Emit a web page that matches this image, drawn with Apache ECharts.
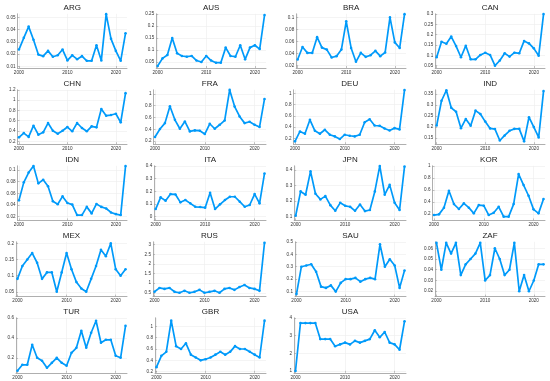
<!DOCTYPE html>
<html><head><meta charset="utf-8">
<script src="https://cdn.jsdelivr.net/npm/echarts@6/dist/echarts.min.js"></script>
<style>html,body{margin:0;padding:0;background:#fff}#c{width:550px;height:381px}</style>
</head><body><div id="c"></div><script>
const years = [2000,2001,2002,2003,2004,2005,2006,2007,2008,2009,2010,2011,2012,2013,2014,2015,2016,2017,2018,2019,2020,2021,2022];
const xTicks = [2000, 2010, 2020];
const countries = ['ARG','AUS','BRA','CAN','CHN','FRA','DEU','IND','IDN','ITA','JPN','KOR','MEX','RUS','SAU','ZAF','TUR','GBR','USA'];

const ARG = [0.0237,0.0333,0.0425,0.0317,0.0196,0.0183,0.0226,0.0178,0.019,0.0237,0.0148,0.019,0.0158,0.0183,0.0145,0.0145,0.0272,0.0148,0.0527,0.0325,0.0226,0.0145,0.0371];
const AUS = [0.033,0.065,0.079,0.15,0.086,0.075,0.072,0.075,0.056,0.05,0.075,0.056,0.047,0.047,0.11,0.075,0.072,0.12,0.061,0.11,0.12,0.104,0.246];
const BRA = [0.0303,0.051,0.0412,0.0412,0.0673,0.05,0.0467,0.0336,0.0358,0.0467,0.0935,0.0494,0.0265,0.0412,0.0347,0.0374,0.0445,0.0358,0.0418,0.1,0.0586,0.0494,0.1054];
const CAN = [0.0906,0.166,0.156,0.191,0.145,0.091,0.147,0.081,0.081,0.102,0.113,0.102,0.05,0.075,0.11,0.094,0.113,0.11,0.17,0.158,0.134,0.098,0.3];
const CHN = [0.277,0.36,0.286,0.503,0.329,0.374,0.555,0.406,0.348,0.406,0.477,0.394,0.555,0.458,0.394,0.49,0.471,0.826,0.697,0.71,0.735,0.568,1.135];
const FRA = [0.268,0.403,0.504,0.79,0.56,0.408,0.532,0.363,0.38,0.375,0.318,0.493,0.408,0.476,0.549,1.068,0.785,0.617,0.504,0.527,0.476,0.437,0.915];
const DEU = [0.147,0.323,0.282,0.53,0.335,0.282,0.353,0.265,0.235,0.188,0.265,0.247,0.235,0.265,0.488,0.541,0.429,0.424,0.376,0.341,0.382,0.359,1.06];
const IND = [0.207,0.32,0.368,0.288,0.27,0.195,0.237,0.206,0.275,0.26,0.225,0.194,0.191,0.139,0.162,0.183,0.192,0.192,0.135,0.245,0.2,0.153,0.364];
const IDN = [0.048,0.0787,0.0955,0.1067,0.077,0.0832,0.072,0.0463,0.0413,0.0547,0.0435,0.0407,0.0228,0.0228,0.0368,0.0257,0.0418,0.0368,0.034,0.0273,0.0245,0.0228,0.1067];
const ITA = [0.06,0.152,0.126,0.178,0.175,0.113,0.131,0.105,0.078,0.076,0.071,0.188,0.06,0.097,0.131,0.157,0.157,0.118,0.078,0.092,0.178,0.105,0.34];
const JPN = [0.1065,0.262,0.241,0.39,0.247,0.211,0.232,0.174,0.138,0.189,0.17,0.164,0.138,0.178,0.136,0.143,0.262,0.425,0.241,0.304,0.189,0.143,0.421];
const KOR = [0.183,0.194,0.305,0.586,0.365,0.283,0.376,0.305,0.211,0.349,0.338,0.183,0.222,0.32,0.156,0.156,0.365,0.862,0.68,0.503,0.277,0.211,0.448];
const MEX = [0.09,0.13,0.15,0.17,0.14,0.09,0.11,0.11,0.05,0.11,0.17,0.12,0.08,0.06,0.05,0.09,0.13,0.18,0.16,0.2,0.12,0.1,0.12];
const RUS = [0.55,0.75,0.7,0.75,0.55,0.5,0.6,0.5,0.55,0.65,0.5,0.55,0.6,0.5,0.7,0.75,0.65,0.8,0.9,0.75,0.7,0.6,3.1];
const SAU = [0.08,0.3,0.31,0.32,0.26,0.14,0.13,0.15,0.1,0.17,0.2,0.2,0.21,0.18,0.2,0.21,0.2,0.48,0.3,0.36,0.31,0.13,0.27];
const ZAF = [0.065,0.04,0.065,0.055,0.065,0.035,0.045,0.05,0.055,0.065,0.03,0.035,0.06,0.05,0.035,0.04,0.065,0.02,0.035,0.02,0.03,0.045,0.045];
const TUR = [0.07,0.13,0.13,0.33,0.2,0.17,0.1,0.15,0.2,0.15,0.12,0.25,0.3,0.47,0.3,0.45,0.57,0.35,0.38,0.38,0.22,0.2,0.52];
const GBR = [0.28,0.48,0.55,1.1,0.65,0.6,0.7,0.5,0.45,0.4,0.42,0.45,0.5,0.55,0.5,0.55,0.65,0.6,0.6,0.55,0.5,0.45,1.1];
const USA = [1.0,3.7,3.7,3.7,3.7,2.8,2.8,2.8,2.4,2.5,2.6,2.5,2.7,2.6,2.7,2.8,3.3,2.9,3.2,2.6,2.5,2.2,3.8];

const seriesValues = {ARG,AUS,BRA,CAN,CHN,FRA,DEU,IND,IDN,ITA,JPN,KOR,MEX,RUS,SAU,ZAF,TUR,GBR,USA};

const yTickLabels = {
  ARG:[0.01,0.02,0.03,0.04,0.05], AUS:[0.05,0.1,0.15,0.2,0.25], BRA:[0.02,0.04,0.06,0.08,0.1], CAN:[0.05,0.1,0.15,0.2,0.25,0.3],
  CHN:[0.2,0.4,0.6,0.8,1,1.2], FRA:[0.2,0.4,0.6,0.8,1], DEU:[0.2,0.4,0.6,0.8,1], IND:[0.15,0.2,0.25,0.3,0.35],
  IDN:[0.02,0.04,0.06,0.08,0.1], ITA:[0,0.1,0.2,0.3,0.4], JPN:[0.1,0.2,0.3,0.4], KOR:[0.2,0.4,0.6,0.8,1],
  MEX:[0.05,0.1,0.15,0.2], RUS:[0.5,1,1.5,2,2.5,3], SAU:[0.1,0.2,0.3,0.4,0.5], ZAF:[0.02,0.03,0.04,0.05,0.06],
  TUR:[0.2,0.4,0.6], GBR:[0.2,0.4,0.6,0.8,1], USA:[1,2,3,4]
};

// ---- layout (axis extents and pixel geometry) ----
const yExtent = {
  ARG:[0.0086,0.053], AUS:[0.0248,0.2514], BRA:[0.0162,0.106], CAN:[0.0388,0.3015],
  CHN:[0.144,1.2], FRA:[0.146,1.07], DEU:[0.096,1.065], IND:[0.122,0.37],
  IDN:[0.0137,0.107], ITA:[-0.029,0.4], JPN:[0.0765,0.426], KOR:[0.094,1.0],
  MEX:[0.035,0.205], RUS:[0.3,3.15], SAU:[0.06,0.5], ZAF:[0.015,0.066],
  TUR:[0.05,0.6], GBR:[0.18,1.15], USA:[0.9,4.0]
};
const plotLeft = [17.5,156.2,296.2,435.2, 17.5,153.5,293.5,435.2, 17.5,154.2,294.2,432.5, 16,153,295,435, 16,155,294];
const colRight = [127, 266, 406, 545];
const rowTop = [13.8, 89.8, 165.8, 241.8, 317.8];
const rowBottom = [68, 144.2, 220.4, 296.6, 372.8];
const titleY = [7.3, 83.3, 159.3, 235.3, 311.3];

const lineColor = '#009AFA';
const axisColor = '#9a9a9a';
const gridColor = '#ececec';
const labelColor = '#333';
const fontFamily = '"Liberation Sans", Arial, sans-serif';

const grids = [], xAxes = [], yAxes = [], series = [], graphics = [];
const fmt = v => String(+(+v).toFixed(6));
countries.forEach((c, i) => {
  const r = Math.floor(i / 4), col = i % 4;
  const L = plotLeft[i], R = colRight[col], T = rowTop[r], B = rowBottom[r];
  grids.push({left: L, top: T, width: R - L, height: B - T});
  xAxes.push({
    gridIndex: i, type: 'value', min: 1999.7, max: 2022.3,
    axisLine: {show: true, onZero: false, lineStyle: {color: axisColor, width: 0.8}},
    axisTick: {show: true, inside: true, length: 2, customValues: xTicks, lineStyle: {color: axisColor, width: 0.6}},
    axisLabel: {customValues: xTicks, fontSize: 4.6, margin: 2, color: labelColor, fontFamily, formatter: v => String(v)},
    splitLine: {show: true, lineStyle: {color: gridColor, width: 0.6}}
  });
  yAxes.push({
    gridIndex: i, type: 'value', min: yExtent[c][0], max: yExtent[c][1],
    axisLine: {show: true, onZero: false, lineStyle: {color: axisColor, width: 0.8}},
    axisTick: {show: true, inside: true, length: 2, customValues: yTickLabels[c], lineStyle: {color: axisColor, width: 0.6}},
    axisLabel: {customValues: yTickLabels[c], fontSize: 4.6, margin: 2, color: labelColor, fontFamily, formatter: fmt},
    splitLine: {show: true, lineStyle: {color: gridColor, width: 0.6}}
  });
  series.push({
    type: 'line', xAxisIndex: i, yAxisIndex: i,
    data: years.map((y, k) => [y, seriesValues[c][k]]),
    symbol: 'circle', symbolSize: 2.6, showSymbol: true,
    lineStyle: {color: lineColor, width: 1.7}, itemStyle: {color: lineColor},
    animation: false, silent: true
  });
  graphics.push({
    type: 'text', x: (L + R) / 2, y: titleY[r],
    style: {text: c, fontSize: 8, fontFamily, fill: '#222', textAlign: 'center', textVerticalAlign: 'middle'}
  });
});

const chart = echarts.init(document.getElementById('c'), null, {renderer: 'canvas'});
chart.setOption({
  backgroundColor: '#fff', animation: false,
  grid: grids, xAxis: xAxes, yAxis: yAxes, series, graphic: graphics
});
</script></body></html>
